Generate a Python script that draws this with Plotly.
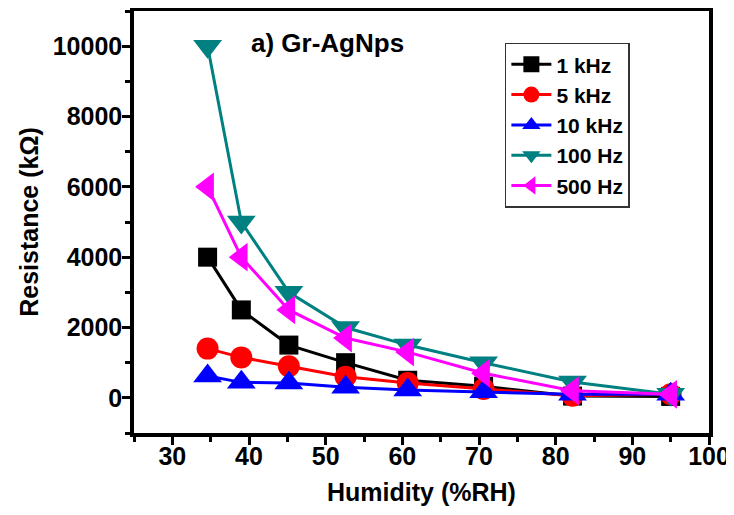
import plotly.graph_objects as go

humidity = [34.6, 39.0, 45.2, 52.6, 60.7, 70.6, 82.2, 95.0]
r_1khz = [4000, 2500, 1500, 1000, 500, 330, 50, 40]
r_5khz = [1400, 1150, 900, 600, 420, 250, 60, 100]
r_10khz = [620, 440, 420, 300, 220, 170, 100, 100]
r_100hz = [10000, 5000, 3000, 2000, 1500, 1000, 450, 100]
r_500hz = [6000, 4000, 2500, 1700, 1300, 700, 200, 100]

series = [
    ("1 kHz", r_1khz, "#000000", "square", 19),
    ("5 kHz", r_5khz, "#FF0000", "circle", 22),
    ("10 kHz", r_10khz, "#0000FF", "triangle-up", 25),
    ("100 Hz", r_100hz, "#008080", "triangle-down", 25),
    ("500 Hz", r_500hz, "#FF00FF", "triangle-left", 25),
]

font_family = "Liberation Sans, Arial, sans-serif"

fig = go.Figure()
for name, vals, color, sym, size in series:
    fig.add_trace(go.Scatter(
        x=humidity, y=vals, name=name, mode="lines+markers",
        line=dict(color=color, width=3),
        marker=dict(symbol=sym, size=size, color=color, line=dict(width=0)),
    ))

axis_common = dict(
    showline=True, linecolor="black", linewidth=3.5, mirror=True,
    ticks="outside", ticklen=8, tickwidth=3, tickcolor="black",
    showgrid=False, zeroline=False, tickformat="d", automargin=False,
    tickfont=dict(family=font_family, size=25, color="black", weight="bold"),
)

title_font = dict(family=font_family, size=25, color="black", weight="bold")

fig.update_xaxes(
    range=[25, 100], tickmode="linear", tick0=30, dtick=10,
    minor=dict(ticks="outside", ticklen=5, tickwidth=3, tickcolor="black", dtick=5, tick0=25),
    ticklabelstandoff=-10,
    **axis_common,
)
fig.update_yaxes(
    range=[-1000, 11000], tickmode="linear", tick0=0, dtick=2000,
    minor=dict(ticks="outside", ticklen=5, tickwidth=3, tickcolor="black", dtick=1000, tick0=-1000),
    ticklabelstandoff=-5,
    **axis_common,
)

# axis titles as annotations (exact placement)
fig.add_annotation(
    text="Humidity (%RH)", xref="paper", yref="paper", x=0.5, y=-0.139,
    xanchor="center", yanchor="middle", showarrow=False, font=title_font,
)
fig.add_annotation(
    text="Resistance (kΩ)", xref="paper", yref="paper", x=-0.183, y=0.5,
    xanchor="center", yanchor="middle", textangle=-90, showarrow=False, font=title_font,
)

fig.add_annotation(
    text="a) Gr-AgNps", xref="paper", yref="paper", x=0.2, y=0.925,
    xanchor="left", yanchor="middle", showarrow=False,
    font=dict(family=font_family, size=26, color="black", weight="bold"),
)

# page body has an 8px default margin, so the figure is shifted by 8px
fig.update_layout(
    width=726, height=507,
    margin=dict(l=126, r=25, t=3, b=82),
    plot_bgcolor="white", paper_bgcolor="white",
    showlegend=True,
    legend=dict(
        x=0.645, y=0.925, xanchor="left", yanchor="top",
        bordercolor="#333333", borderwidth=1.5, bgcolor="white",
        font=dict(family=font_family, size=21, color="black", weight="bold"),
        tracegroupgap=0, itemwidth=40,
    ),
)

fig.write_html("out.html")
